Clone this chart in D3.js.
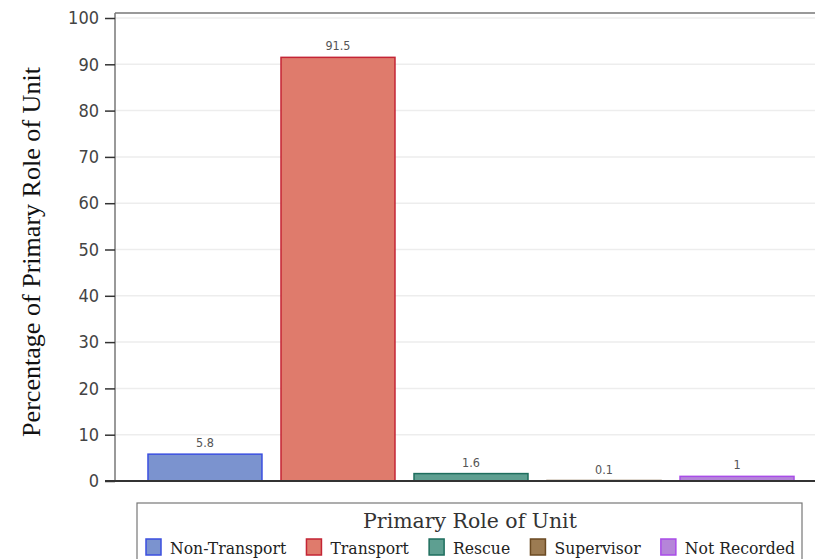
<!DOCTYPE html>
<html><head><meta charset="utf-8">
<script src="https://cdn.jsdelivr.net/npm/d3@7/dist/d3.min.js"></script>
<style>body{margin:0;background:#fff}svg{display:block}</style>
</head><body>
<svg id="c" width="815" height="559"></svg>
<script>
const categories = ["Non-Transport","Transport","Rescue","Supervisor","Not Recorded"];
const values = [5.8, 91.5, 1.6, 0.1, 1];
const labels = ["5.8","91.5","1.6","0.1","1"];
const fills = ["#7b93cf","#df7b6c","#5e9f91","#9c7b52","#b585d9"];
const strokes = ["#3b4fe0","#c42535","#1e6e5e","#6b4a22","#a94ce8"];
const yTicks = [0,10,20,30,40,50,60,70,80,90,100];

(function(){
const svg = d3.select("#c");
const left = 115, plotTop = 13, bottom = 481;
const y = d3.scaleLinear().domain([0,100]).range([bottom, 18]);
const x = d3.scaleBand().domain(categories).range([left, 827]).paddingInner(0.143).paddingOuter(0.248);

function fit(sel, target){
  const n = sel.node();
  const fs = parseFloat(sel.attr("font-size"));
  const w = n.getComputedTextLength();
  if (w > 0) sel.attr("font-size", fs * target / w);
  return parseFloat(sel.attr("font-size"));
}

// gridlines
svg.append("g").selectAll("line").data(yTicks.filter(d=>d>0)).join("line")
  .attr("x1", left).attr("x2", 815).attr("y1", d=>y(d)).attr("y2", d=>y(d))
  .attr("stroke","#ededed").attr("stroke-width",1.5);

// top border
svg.append("line").attr("x1",left).attr("x2",815).attr("y1",plotTop).attr("y2",plotTop)
  .attr("stroke","#999").attr("stroke-width",2);

// bars
svg.append("g").selectAll("rect").data(categories).join("rect")
  .attr("x", d=>x(d)).attr("width", x.bandwidth())
  .attr("y", (d,i)=>y(values[i])).attr("height", (d,i)=>bottom - y(values[i]))
  .attr("fill",(d,i)=>fills[i]).attr("stroke",(d,i)=>strokes[i]).attr("stroke-width",1.5);

// value labels
svg.append("g").selectAll("text").data(categories).join("text")
  .attr("x", d=>x(d)+x.bandwidth()/2).attr("y",(d,i)=>y(values[i])-7)
  .attr("text-anchor","middle").attr("font-family","DejaVu Sans Condensed, DejaVu Sans").attr("font-size",12.5)
  .attr("fill","#555").text((d,i)=>labels[i]);

// y axis
const ya = svg.append("g").attr("transform",`translate(${left},0)`)
  .call(d3.axisLeft(y).tickValues(yTicks).tickSize(10).tickSizeOuter(0));
ya.select(".domain").attr("stroke","#777").attr("stroke-width",1.5).attr("d",`M0,${plotTop}V${bottom}`);
ya.selectAll(".tick line").attr("stroke","#333").attr("stroke-width",1.5);
ya.selectAll(".tick text").attr("font-family","DejaVu Sans Condensed, DejaVu Sans").attr("font-size",18).attr("fill","#444").attr("x",-16);

// x axis baseline
svg.append("line").attr("x1",left-10).attr("x2",815).attr("y1",bottom).attr("y2",bottom)
  .attr("stroke","#333").attr("stroke-width",2);

// y title
const yt = svg.append("text").attr("transform","translate(40,252) rotate(-90)").attr("text-anchor","middle")
  .attr("font-family","Liberation Serif").attr("font-size",24).attr("fill","#111")
  .text("Percentage of Primary Role of Unit");
fit(yt, 370);

// legend
svg.append("rect").attr("x",137).attr("y",503).attr("width",665).attr("height",70)
  .attr("fill","none").attr("stroke","#777").attr("stroke-width",1.2);
const lt = svg.append("text").attr("x",470).attr("y",528).attr("text-anchor","middle")
  .attr("font-family","DejaVu Serif").attr("font-size",19).attr("fill","#333").attr("font-weight",300)
  .text("Primary Role of Unit");
fit(lt, 214);

const lg = svg.append("g").selectAll("g").data(categories).join("g");
lg.append("rect").attr("width",15).attr("height",16).attr("y",-15)
  .attr("fill",(d,i)=>fills[i]).attr("stroke",(d,i)=>strokes[i]).attr("stroke-width",1.5);
const lts = lg.append("text").attr("x",24).attr("y",0).attr("font-family","DejaVu Serif Condensed, DejaVu Serif")
  .attr("font-size",16).attr("fill","#222").text(d=>d);
let total = 0;
lts.each(function(){ total += this.getComputedTextLength(); });
lts.attr("font-size", 16 * 448 / total);
// flow items so they span from 146 to 795
let widths = [];
lts.each(function(){ widths.push(this.getComputedTextLength()); });
const used = widths.reduce((a,b)=>a+b,0) + 5*24;
const gap = (795 - 146 - used) / 4;
let cx = 146;
lg.each(function(d,i){
  d3.select(this).attr("transform",`translate(${cx},554)`);
  cx += 24 + widths[i] + gap;
});
})();
</script>
</body></html>
